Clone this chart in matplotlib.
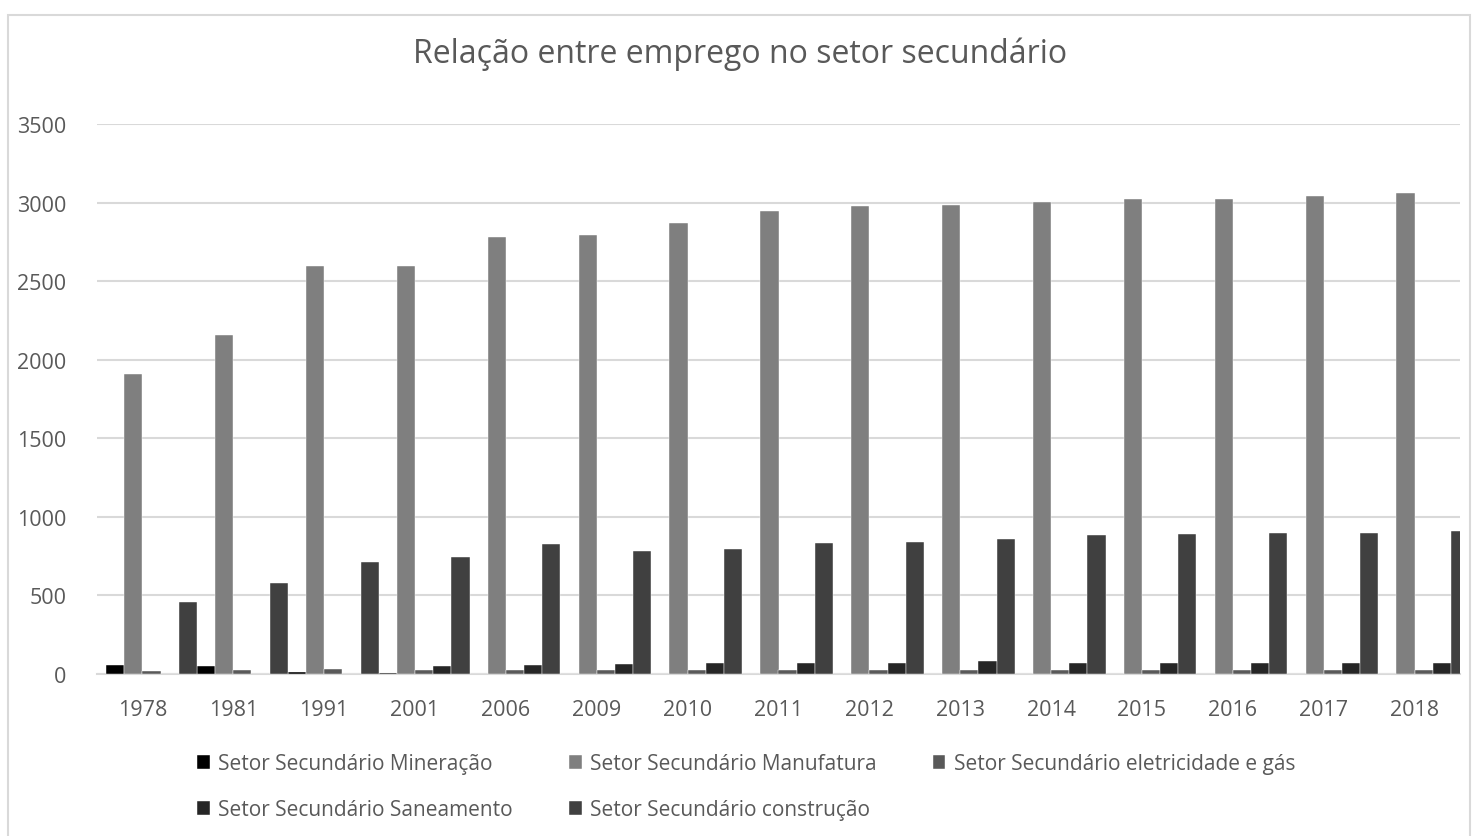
import numpy as np
import matplotlib
matplotlib.use("Agg")
from matplotlib import pyplot as plt
from matplotlib.patches import Rectangle

# data
anos = ["1978", "1981", "1991", "2001", "2006", "2009", "2010", "2011",
        "2012", "2013", "2014", "2015", "2016", "2017", "2018"]
mineracao = [58, 50, 15, 8, 0, 0, 0, 0, 0, 0, 0, 0, 0, 0, 0]
manufatura = [1911, 2155, 2598, 2598, 2778, 2793, 2867, 2948,
              2975, 2983, 3004, 3023, 3023, 3040, 3064]
eletricidade = [18, 25, 34, 25, 25, 25, 25, 25, 25, 25, 25, 25, 25, 25, 25]
saneamento = [0, 0, 0, 50, 58, 66, 72, 72, 72, 81, 72, 72, 72, 72, 72]
construcao = [458, 581, 713, 742, 827, 785, 794, 834,
              840, 859, 884, 890, 898, 898, 907]

series = [
    ("Setor Secundário Mineração", mineracao, "#000000"),
    ("Setor Secundário Manufatura", manufatura, "#7f7f7f"),
    ("Setor Secundário eletricidade e gás", eletricidade, "#595959"),
    ("Setor Secundário Saneamento", saneamento, "#262626"),
    ("Setor Secundário construção", construcao, "#404040"),
]

plt.rcParams['font.family'] = ['Open Sans', 'DejaVu Sans']
txt = "#595959"
grid = "#d9d9d9"

fig = plt.figure(figsize=(14.8, 8.37), dpi=100)
ax = fig.add_axes([97 / 1480, 1 - 675 / 837, (1460 - 97) / 1480, 550 / 837])

x = np.arange(len(anos))
w = 0.2
handles = []
for i, (nome, vals, cor) in enumerate(series):
    b = ax.bar(x - 0.4 + w / 2 + i * w, vals, width=w, color=cor,
               edgecolor="white", linewidth=0.3, label=nome, zorder=3)
    handles.append(b)

ax.set_xlim(-0.5, len(anos) - 0.5)
ax.set_ylim(0, 3500)
ax.set_yticks(range(0, 3501, 500))
ax.set_xticks(x)
ax.set_xticklabels(anos)
ax.yaxis.grid(True, color=grid, linewidth=1.5, zorder=0)
ax.tick_params(length=0, labelsize=15.5, colors=txt)
ax.tick_params(axis="x", pad=18)
ax.tick_params(axis="y", pad=22)
for s in ["top", "right", "left"]:
    ax.spines[s].set_visible(False)
ax.spines["bottom"].set_color(grid)
ax.spines["bottom"].set_linewidth(1.5)

fig.text(0.5, 1 - 54 / 837, "Relação entre emprego no setor secundário",
         ha="center", va="center", fontsize=23, color=txt)

# legend: row-wise order for ncol=3
order = [0, 3, 1, 4, 2]
leg = fig.legend([handles[i] for i in order],
                 [series[i][0] for i in order],
                 ncol=3, loc="upper left", bbox_to_anchor=(187 / 1480, 1 - 744 / 837),
                 frameon=False, fontsize=15, labelcolor=txt,
                 handlelength=0.6, handleheight=0.6, handletextpad=0.4,
                 columnspacing=2.7, labelspacing=1.2, borderpad=0)

# outer chart frame
fig.patches.append(Rectangle((8 / 1480, -0.05), 1462 / 1480, 1.04 - 8 / 837,
                             transform=fig.transFigure, fill=False,
                             edgecolor=grid, linewidth=1.5))

plt.savefig("out.png", dpi=100)
